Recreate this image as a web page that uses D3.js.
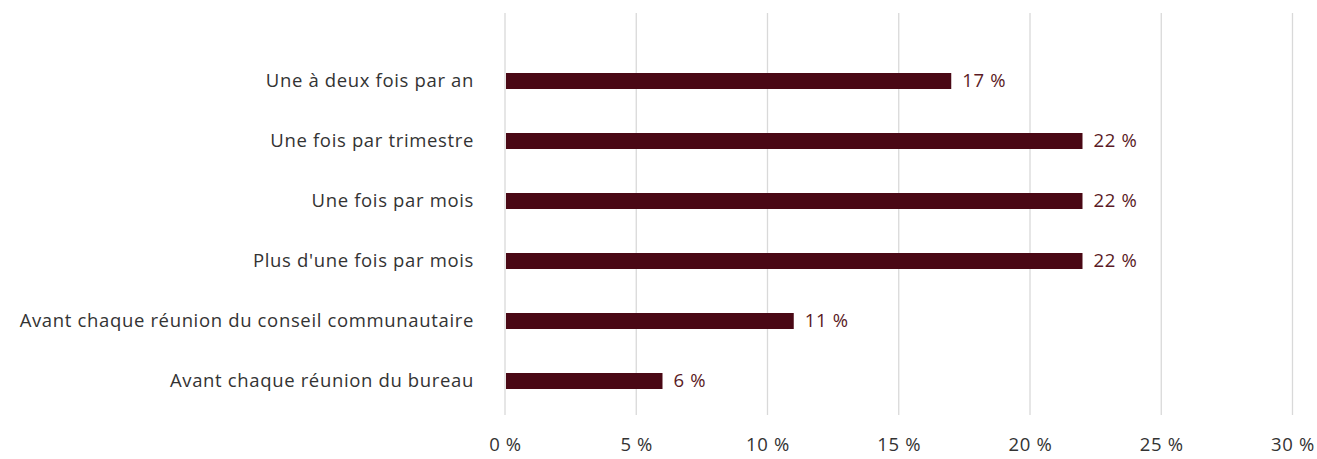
<!DOCTYPE html>
<html lang="fr">
<head>
<meta charset="utf-8">
<script src="https://cdn.jsdelivr.net/npm/d3@7"></script>
<style>
  html, body { margin: 0; padding: 0; background: #ffffff; }
  svg { display: block; }
  text { font-family: "Open Sans", "Noto Sans", sans-serif; }
</style>
</head>
<body>
<svg id="chart" width="1317" height="459"></svg>
<script>
// Fréquence des échanges
const categories = [
  "Une à deux fois par an",
  "Une fois par trimestre",
  "Une fois par mois",
  "Plus d'une fois par mois",
  "Avant chaque réunion du conseil communautaire",
  "Avant chaque réunion du bureau"
];
const values = [17, 22, 22, 22, 11, 6];
const tickValues = [0, 5, 10, 15, 20, 25, 30];

const svg = d3.select("#chart");
const barColor = "#4a0815";
const labelColor = "#5a1a25";
const textColor = "#333333";
const fontFamily = "'Open Sans', 'Noto Sans', sans-serif";
const fontSize = 18.5;
const spacing = "0.65px";

const x = d3.scaleLinear().domain([0, 30]).range([505, 1292.5]);
const y = d3.scaleBand()
  .domain(categories)
  .range([51, 411])
  .paddingInner(44 / 60)
  .paddingOuter(22 / 60);

const fmt = v => `${v} %`;

// Vertical gridlines
svg.append("g")
  .selectAll("line")
  .data(tickValues)
  .join("line")
  .attr("x1", d => x(d)).attr("x2", d => x(d))
  .attr("y1", 13).attr("y2", 415)
  .attr("stroke", "#d9d9d9")
  .attr("stroke-width", 1.3);

// Bottom axis labels
const xAxis = d3.axisBottom(x).tickValues(tickValues).tickFormat(fmt).tickSize(0).tickPadding(0);
const gx = svg.append("g").attr("transform", "translate(0,438)").call(xAxis);
gx.select(".domain").remove();
gx.selectAll("text")
  .attr("font-size", fontSize)
  .attr("letter-spacing", spacing)
  .attr("fill", textColor)
  .attr("font-family", fontFamily);

// Category labels
const yAxis = d3.axisLeft(y).tickSize(0).tickPadding(0);
const gy = svg.append("g").attr("transform", "translate(474,0)").call(yAxis);
gy.select(".domain").remove();
gy.selectAll("text")
  .attr("font-size", fontSize)
  .attr("letter-spacing", spacing)
  .attr("fill", textColor)
  .attr("font-family", fontFamily);

// Bars
svg.append("g")
  .selectAll("rect")
  .data(categories)
  .join("rect")
  .attr("x", x(0) + 1)
  .attr("y", d => y(d))
  .attr("width", (d, i) => x(values[i]) - x(0) - 1)
  .attr("height", y.bandwidth())
  .attr("fill", barColor);

// Value labels
svg.append("g")
  .selectAll("text")
  .data(categories)
  .join("text")
  .attr("x", (d, i) => x(values[i]) + 11)
  .attr("y", d => y(d) + y.bandwidth() / 2)
  .attr("dy", "0.35em")
  .attr("font-size", fontSize)
  .attr("letter-spacing", spacing)
  .attr("fill", labelColor)
  .text((d, i) => fmt(values[i]));
</script>
</body>
</html>
